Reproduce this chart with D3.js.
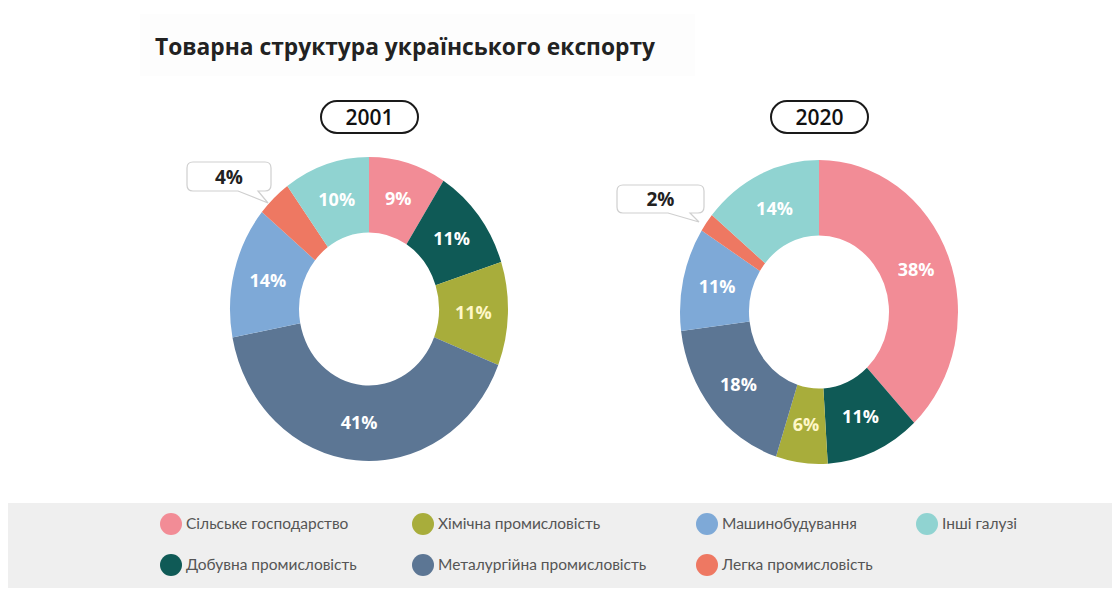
<!DOCTYPE html>
<html><head><meta charset="utf-8">
<script src="https://cdn.jsdelivr.net/npm/d3@7"></script>
<style>body{margin:0;background:#fff;} svg{display:block;}</style>
</head><body>
<svg id="chart" width="1112" height="607"></svg>
<script>
const categories = ["Сільське господарство","Добувна промисловість","Хімічна промисловість","Металургійна промисловість","Машинобудування","Легка промисловість","Інші галузі"];
const colors = ["#F28C96","#0F5A56","#A8AD3B","#5C7694","#7EA9D7","#EE7862","#90D3D1"];
const years = ["2001","2020"];
const values2001 = [9,11,11,41,14,4,10];
const values2020 = [38,11,6,18,11,2,14];
const legendOrder = [0,2,4,6,1,3,5];
const title = "Товарна структура українського експорту";

const svg = d3.select("#chart");
svg.append("rect").attr("x",140).attr("y",14).attr("width",555).attr("height",62).attr("fill","#fdfdfd");
svg.append("text").attr("x",155).attr("y",55).text(title)
  .attr("font-family","Open Sans, sans-serif").attr("font-weight",700).attr("font-size",23)
  .attr("fill","#222").attr("textLength",500).attr("lengthAdjust","spacingAndGlyphs");

const rx = 139, rIn = 70, sy = 152/139;
const pie = d3.pie().sort(null).value(d=>d);
const arc = d3.arc().innerRadius(rIn).outerRadius(rx);
const labelArc = d3.arc().innerRadius((rIn+rx)/2).outerRadius((rIn+rx)/2);

const donuts = [
  {year:years[0], vals:values2001, cx:369, cy:309, callout:{x:187,y:162,w:84,h:29,tip:[268,203],t0:238,t1:258}},
  {year:years[1], vals:values2020, cx:819, cy:312, callout:{x:617,y:185,w:87,h:28,tip:[699,222],t0:668,t1:690}}
];

donuts.forEach(dn=>{
  const pill = svg.append("g");
  pill.append("rect").attr("x",dn.cx-48).attr("y",101).attr("width",97).attr("height",32).attr("rx",16)
    .attr("fill","#fff").attr("stroke","#1a1a1a").attr("stroke-width",2);
  pill.append("text").attr("x",dn.cx+0.5).attr("y",125).attr("text-anchor","middle").text(dn.year)
    .attr("font-family","Open Sans, sans-serif").attr("font-weight",600).attr("font-size",21).attr("fill","#111");

  const g = svg.append("g").attr("transform",`translate(${dn.cx},${dn.cy}) scale(1,${sy})`);
  const arcs = pie(dn.vals);
  g.selectAll("path").data(arcs).join("path").attr("d",arc).attr("fill",(d,i)=>colors[i]);

  const lg = svg.append("g").attr("transform",`translate(${dn.cx},${dn.cy})`);
  arcs.forEach((d,i)=>{
    if (i===5) return;
    const c = labelArc.centroid(d);
    lg.append("text").attr("x",c[0]).attr("y",c[1]*sy+6).attr("text-anchor","middle")
      .text(dn.vals[i]+"%")
      .attr("font-family","Open Sans, sans-serif").attr("font-weight",700).attr("font-size",18)
      .attr("fill", i===2 ? "#FFF7C8" : "#fff");
  });

  const c = dn.callout;
  const path = `M${c.x+6},${c.y} H${c.x+c.w-6} Q${c.x+c.w},${c.y} ${c.x+c.w},${c.y+6} V${c.y+c.h-6} Q${c.x+c.w},${c.y+c.h} ${c.x+c.w-6},${c.y+c.h} H${c.t1} L${c.tip[0]},${c.tip[1]} L${c.t0},${c.y+c.h} H${c.x+6} Q${c.x},${c.y+c.h} ${c.x},${c.y+c.h-6} V${c.y+6} Q${c.x},${c.y} ${c.x+6},${c.y} Z`;
  svg.append("path").attr("d",path).attr("fill","#fff").attr("stroke","#cfcfcf").attr("stroke-width",1.2);
  svg.append("text").attr("x",c.x+c.w/2).attr("y",c.y+c.h/2+7).attr("text-anchor","middle")
    .text(dn.vals[5]+"%")
    .attr("font-family","Open Sans, sans-serif").attr("font-weight",700).attr("font-size",19).attr("fill","#222");
});

svg.append("rect").attr("x",8).attr("y",503).attr("width",1104).attr("height",85).attr("fill","#efefef");
const colX = [171,423,707,927];
const rowY = [524,565];
legendOrder.forEach((ci,k)=>{
  const row = k<4?0:1, col = k<4?k:k-4;
  const lx = colX[col], ly = rowY[row];
  svg.append("circle").attr("cx",lx).attr("cy",ly).attr("r",11).attr("fill",colors[ci]);
  svg.append("text").attr("x",lx+15).attr("y",ly+5).text(categories[ci])
    .attr("font-family","Lato, sans-serif").attr("font-size",15.5).attr("fill","#555");
});
</script>
</body></html>
